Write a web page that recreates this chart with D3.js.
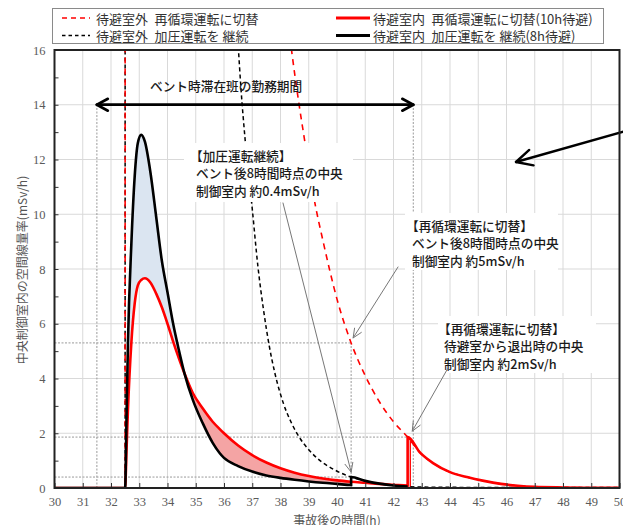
<!DOCTYPE html>
<html>
<head>
<meta charset="utf-8">
<script src="https://cdn.jsdelivr.net/npm/d3@7"></script>
<style>
  body { margin: 0; background: #fff; }
  svg { display: block; }
</style>
</head>
<body>
<svg id="chart" width="623" height="525"></svg>
<script>
// ---- axis ticks ----
const xTicks = [30,31,32,33,34,35,36,37,38,39,40,41,42,43,44,45,46,47,48,49,50];
const yTicks = [0,2,4,6,8,10,12,14,16];
const yMinorTicks = [1,3,5,7,9,11,13,15];

// ---- dose rate inside the shelter room (mSv/h), shared time grid (h after accident) ----
const hoursInside = [30, 32.5, 32.55, 32.6, 32.72, 32.84, 32.95, 33.07, 33.2, 33.4, 33.6, 33.8, 34.0, 34.2, 34.4, 34.6,
                     34.9, 35.25, 35.6, 35.85, 36.0, 36.5, 37.0, 37.5, 38.0, 38.5, 39.0, 39.5, 40.0, 40.5];
const doseInsideRecirc = [0, 0, 1.4, 2.85, 5.3, 6.75, 7.4, 7.6, 7.66, 7.5, 7.1, 6.6, 6.0, 5.35, 4.75, 4.19,
                          3.46, 2.9, 2.42, 2.15, 2.0, 1.55, 1.2, 0.93, 0.72, 0.56, 0.44, 0.35, 0.28, 0.23];
const doseInsidePressure = [0, 0, 2.6, 5.3, 8.9, 11.4, 12.6, 12.9, 12.65, 11.5, 9.9, 8.3, 7.15, 6.0, 5.05, 4.19,
                            3.21, 2.36, 1.65, 1.27, 1.1, 0.8, 0.6, 0.46, 0.37, 0.3, 0.24, 0.19, 0.15, 0.11];
// recirculation case stays in the shelter two more hours
const hoursInsideLate = [41, 41.5, 42, 42.5];
const doseInsideRecircLate = [0.19, 0.15, 0.12, 0.09];

// ---- dose rate in the control room outside the shelter (mSv/h) ----
const hoursOutRecirc = [30, 32.5, 32.5, 38.0, 38.39, 38.63, 38.87, 39.22, 39.51, 40.0, 40.5, 41.0, 41.5, 42.0, 42.5,
                        42.95, 43.4, 44.0, 44.6, 45.2, 45.8, 46.4, 47.0, 48.0, 49.0, 50.0];
const doseOutRecirc = [0, 0, 20, 19.5, 16, 14.2, 12.6, 10.4, 9.0, 6.9, 5.3, 4.1, 3.15, 2.42, 1.86,
                       1.28, 0.91, 0.58, 0.4, 0.26, 0.15, 0.08, 0.04, 0.02, 0.01, 0.01];
const hoursOutPressure = [30, 32.5, 32.5, 36.3, 36.5, 36.6, 36.75, 37.0, 37.2, 37.4, 37.6, 37.8, 38.1, 38.4, 38.7,
                          39.0, 39.4, 39.9, 40.5, 41.0, 41.5, 42.0, 42.5, 43.0, 44.0, 45.0, 46.0, 47.0, 48.0, 49.0, 50.0];
const doseOutPressure = [0, 0, 20, 19.5, 16.2, 14.6, 12.7, 10.2, 8.1, 6.5, 5.2, 4.2, 3.1, 2.35, 1.8,
                         1.4, 1.0, 0.67, 0.4, 0.26, 0.16, 0.09, 0.05, 0.035, 0.025, 0.02, 0.02, 0.02, 0.02, 0.02, 0.02];

// ---- key times ----
const exitPressure = 40.5;   // 8h shelter ends
const exitRecirc = 42.5;     // 10h shelter ends
const dutyStart = 31.5, dutyEnd = 42.7, dutyLevel = 14;
const exitStripEnd = 42.6;

// ---- labels ----
const legendLabels = ["待避室外\u2002再循環運転に切替", "待避室内\u2002再循環運転に切替(10h待避)",
                      "待避室外\u2002加圧運転を 継続", "待避室内\u2002加圧運転を 継続(8h待避)"];
const dutyLabel = "ベント時滞在班の勤務期間";
const noteA = ["【加圧運転継続】", "ベント後8時間時点の中央", "制御室内 約0.4mSv/h"];
const noteB = ["【再循環運転に切替】", "ベント後8時間時点の中央", "制御室内 約5mSv/h"];
const noteC = ["【再循環運転に切替】", "待避室から退出時の中央", "制御室内 約2mSv/h"];
const xTitle = "事故後の時間(h)";
const yTitle = "中央制御室内の空間線量率(mSv/h)";

const RED = "#ff0000", PINK = "#f4a4a4", BLUE = "#dbe5f1";
const CJK = "'Noto Sans CJK JP', sans-serif";
const SERIF = "'Liberation Serif', 'Noto Sans CJK JP', serif";

const svg = d3.select("#chart");
const x = d3.scaleLinear().domain([30, 50]).range([54.5, 619.5]);
const y = d3.scaleLinear().domain([0, 16]).range([488, 50]);

const zip = (hs, vs) => hs.map((h, i) => ({ h, v: vs[i] }));
const interp = (pts, h) => {
  for (let i = 1; i < pts.length; i++) {
    if (pts[i].h >= h && pts[i - 1].h <= h && pts[i].h > pts[i - 1].h) {
      const t = (h - pts[i - 1].h) / (pts[i].h - pts[i - 1].h);
      return pts[i - 1].v + t * (pts[i].v - pts[i - 1].v);
    }
  }
  return 0;
};

// series
const inside = hoursInside.map((h, i) => ({ h, r: doseInsideRecirc[i], b: doseInsidePressure[i] }));
const outRecirc = zip(hoursOutRecirc, doseOutRecirc);
const outPressure = zip(hoursOutPressure, doseOutPressure);
const solidRecirc = zip(hoursInside, doseInsideRecirc)
  .concat(zip(hoursInsideLate, doseInsideRecircLate))
  .concat(outRecirc.filter(d => d.h >= exitRecirc && d.v < 20));
const solidPressure = zip(hoursInside, doseInsidePressure)
  .concat(outPressure.filter(d => d.h >= exitPressure && d.h <= exitRecirc && d.v < 20));

// clip
svg.append("defs").append("clipPath").attr("id", "plotClip").append("rect")
  .attr("x", x(30)).attr("y", y(16)).attr("width", x(50) - x(30)).attr("height", y(0) - y(16));

// ---- grid ----
const grid = svg.append("g").attr("stroke", "#d9d9d9").attr("stroke-width", 1);
grid.selectAll(".gv").data(xTicks.slice(1, -1)).join("line")
  .attr("x1", d => x(d)).attr("x2", d => x(d)).attr("y1", y(0)).attr("y2", y(16));
grid.selectAll(".gh").data(yTicks.slice(1, -1)).join("line")
  .attr("x1", x(30)).attr("x2", x(50)).attr("y1", d => y(d)).attr("y2", d => y(d));

// ---- guide lines for the noted values ----
const guides = svg.append("g").attr("stroke", "#9a9a9a").attr("stroke-width", 1).attr("stroke-dasharray", "2,1.5");
const vAtExitP = interp(outPressure, exitPressure);
const vAtExitPRecirc = interp(outRecirc.slice(3), exitPressure);
const vAtExitR = outRecirc.find(d => d.h === exitRecirc).v;
[[exitPressure, vAtExitP], [exitPressure, vAtExitPRecirc], [exitRecirc, vAtExitR]].forEach(([h, v]) => {
  guides.append("line").attr("x1", x(30)).attr("x2", x(h)).attr("y1", y(v)).attr("y2", y(v));
});
guides.append("line").attr("x1", x(exitPressure)).attr("x2", x(exitPressure)).attr("y1", y(0)).attr("y2", y(vAtExitPRecirc));
[dutyStart, dutyEnd].forEach(h => {
  guides.append("line").attr("x1", x(h)).attr("x2", x(h)).attr("y1", y(0)).attr("y2", y(dutyLevel));
});

// ---- filled differences ----
const plot = svg.append("g").attr("clip-path", "url(#plotClip)");
const curve = d3.curveMonotoneX;
const area = d3.area().curve(curve).x(d => x(d.h));
plot.append("path")
  .datum(inside.filter(d => d.h >= 32.5 && d.b >= d.r))
  .attr("fill", BLUE)
  .attr("d", area.y0(d => y(d.r)).y1(d => y(d.b)));
plot.append("path")
  .datum(inside.filter(d => d.h >= 34.6 && d.r >= d.b))
  .attr("fill", PINK)
  .attr("d", area.y0(d => y(d.b)).y1(d => y(d.r)));
const strip = [exitRecirc, exitStripEnd].map(h => ({ h, v: interp(outRecirc.slice(3), h) }));
plot.append("path").datum(strip)
  .attr("fill", PINK).attr("stroke", RED).attr("stroke-width", 1)
  .attr("d", d3.area().x(d => x(d.h)).y0(y(0)).y1(d => y(d.v)));

// ---- curves ----
const line = d3.line().curve(curve).x(d => x(d.h)).y(d => y(d.v));
plot.append("path").datum(outPressure)
  .attr("fill", "none").attr("stroke", "#000").attr("stroke-width", 1.5).attr("stroke-dasharray", "4,3")
  .attr("d", line);
plot.append("path").datum(outRecirc)
  .attr("fill", "none").attr("stroke", RED).attr("stroke-width", 1.6).attr("stroke-dasharray", "6,5")
  .attr("d", line);
plot.append("path").datum(solidRecirc)
  .attr("fill", "none").attr("stroke", RED).attr("stroke-width", 2.6)
  .attr("d", line);
plot.append("path").datum(solidPressure)
  .attr("fill", "none").attr("stroke", "#000").attr("stroke-width", 2.6)
  .attr("d", line);

// ---- axes ----
const xAxis = svg.append("g").attr("transform", `translate(0,${y(0)})`)
  .call(d3.axisBottom(x).tickValues(xTicks).tickFormat(d3.format("d")).tickSizeInner(-5).tickSizeOuter(0).tickPadding(9));
const yAxis = svg.append("g").attr("transform", `translate(${x(30)},0)`)
  .call(d3.axisLeft(y).tickValues(yTicks).tickFormat(d3.format("d")).tickSizeInner(-4).tickSizeOuter(0).tickPadding(9));
svg.append("g").attr("transform", `translate(${x(30)},0)`)
  .call(d3.axisLeft(y).tickValues(yMinorTicks).tickFormat("").tickSizeInner(-4).tickSizeOuter(0));
svg.selectAll(".domain").remove();
svg.selectAll(".tick line").attr("stroke", "#333");
svg.selectAll(".tick text").attr("font-family", SERIF).attr("font-size", 12.5).attr("fill", "#5a5a5a");

// ---- note boxes (white backing hides lines behind the text) ----
const notes = [
  { lines: noteA, bx: 184, by: 143, bw: 169, bh: 59, tx: 196, ty: 155 },
  { lines: noteB, bx: 405, by: 213, bw: 153, bh: 57, tx: 412, ty: 225 },
  { lines: noteC, bx: 438, by: 316, bw: 158, bh: 57, tx: 444, ty: 328 }
];
notes.forEach(n => {
  svg.append("rect").attr("x", n.bx).attr("y", n.by).attr("width", n.bw).attr("height", n.bh).attr("fill", "#fff");
  svg.append("g").selectAll("text").data(n.lines).join("text")
    .attr("x", (d, i) => n.tx - (i === 0 ? 6 : 0))
    .attr("y", (d, i) => n.ty + i * 17.6)
    .attr("dominant-baseline", "central")
    .attr("font-family", CJK).attr("font-size", 12.7).attr("font-weight", 500).attr("fill", "#1a1a1a")
    .text(d => d);
});

// ---- arrows ----
function arrow(x1, y1, x2, y2, len, half, color, width) {
  const g = svg.append("g").attr("stroke", color).attr("stroke-width", width).attr("fill", "none")
    .attr("stroke-linecap", "round").attr("stroke-linejoin", "round");
  g.append("line").attr("x1", x1).attr("y1", y1).attr("x2", x2).attr("y2", y2);
  const a = Math.atan2(y2 - y1, x2 - x1);
  const bx = x2 - len * Math.cos(a), by = y2 - len * Math.sin(a);
  const px = -Math.sin(a) * half, py = Math.cos(a) * half;
  g.append("path").attr("d", `M${bx + px},${by + py}L${x2},${y2}L${bx - px},${by - py}`);
}
// duty period double arrow
arrow(x(dutyEnd), y(dutyLevel), x(dutyStart), y(dutyLevel), 11, 6, "#000", 2.6);
arrow(x(dutyStart), y(dutyLevel), x(dutyEnd), y(dutyLevel), 11, 6, "#000", 2.6);
svg.append("text").attr("x", 150).attr("y", 85).attr("dominant-baseline", "central")
  .attr("font-family", CJK).attr("font-size", 12.7).attr("font-weight", 500).attr("fill", "#1a1a1a")
  .text(dutyLabel);
// note pointers
arrow(283, 203, x(exitPressure), y(vAtExitP) - 5, 9, 4, "#777", 1);
arrow(398, 267, x(exitPressure) + 2, y(vAtExitPRecirc) - 5, 9, 4, "#777", 1);
arrow(448, 368, x(dutyEnd) - 1, y(vAtExitR) - 6, 9, 4, "#777", 1);
// pointer entering from the right
arrow(626, 131, 516, 162, 16, 8, "#000", 2.4);

// ---- plot frame ----
svg.append("rect").attr("x", x(30)).attr("y", y(16)).attr("width", x(50) - x(30)).attr("height", y(0) - y(16))
  .attr("fill", "none").attr("stroke", "#222").attr("stroke-width", 2);

// ---- axis titles ----
svg.append("text").attr("x", (x(30) + x(50)) / 2).attr("y", 519).attr("text-anchor", "middle")
  .attr("dominant-baseline", "central").attr("font-family", CJK).attr("font-size", 12).attr("fill", "#555")
  .text(xTitle);
svg.append("text").attr("transform", "translate(21,270) rotate(-90)").attr("text-anchor", "middle")
  .attr("dominant-baseline", "central").attr("font-family", CJK).attr("font-size", 12).attr("fill", "#555")
  .text(yTitle);

// ---- legend ----
const legend = svg.append("g");
legend.append("rect").attr("x", 52.5).attr("y", 8.5).attr("width", 551).attr("height", 35)
  .attr("fill", "#fff").attr("stroke", "#8a8a8a").attr("stroke-width", 1);
const legendStyles = [
  { color: RED, dash: "5,4", width: 1.6 },
  { color: RED, dash: null, width: 3 },
  { color: "#000", dash: "3.5,3", width: 1.5 },
  { color: "#000", dash: null, width: 3 }
];
legendLabels.forEach((label, i) => {
  const col = i % 2, row = Math.floor(i / 2);
  const lx = col === 0 ? 62 : 336, lw = col === 0 ? 28 : 34, ly = row === 0 ? 18 : 35.5;
  const s = legendStyles[i];
  legend.append("line").attr("x1", lx).attr("x2", lx + lw).attr("y1", ly).attr("y2", ly)
    .attr("stroke", s.color).attr("stroke-width", s.width).attr("stroke-dasharray", s.dash);
  legend.append("text").attr("x", lx + lw + (col === 0 ? 6 : 3)).attr("y", ly).attr("dominant-baseline", "central")
    .attr("font-family", CJK).attr("font-size", 13).attr("fill", "#333").text(label);
});
</script>
</body>
</html>
